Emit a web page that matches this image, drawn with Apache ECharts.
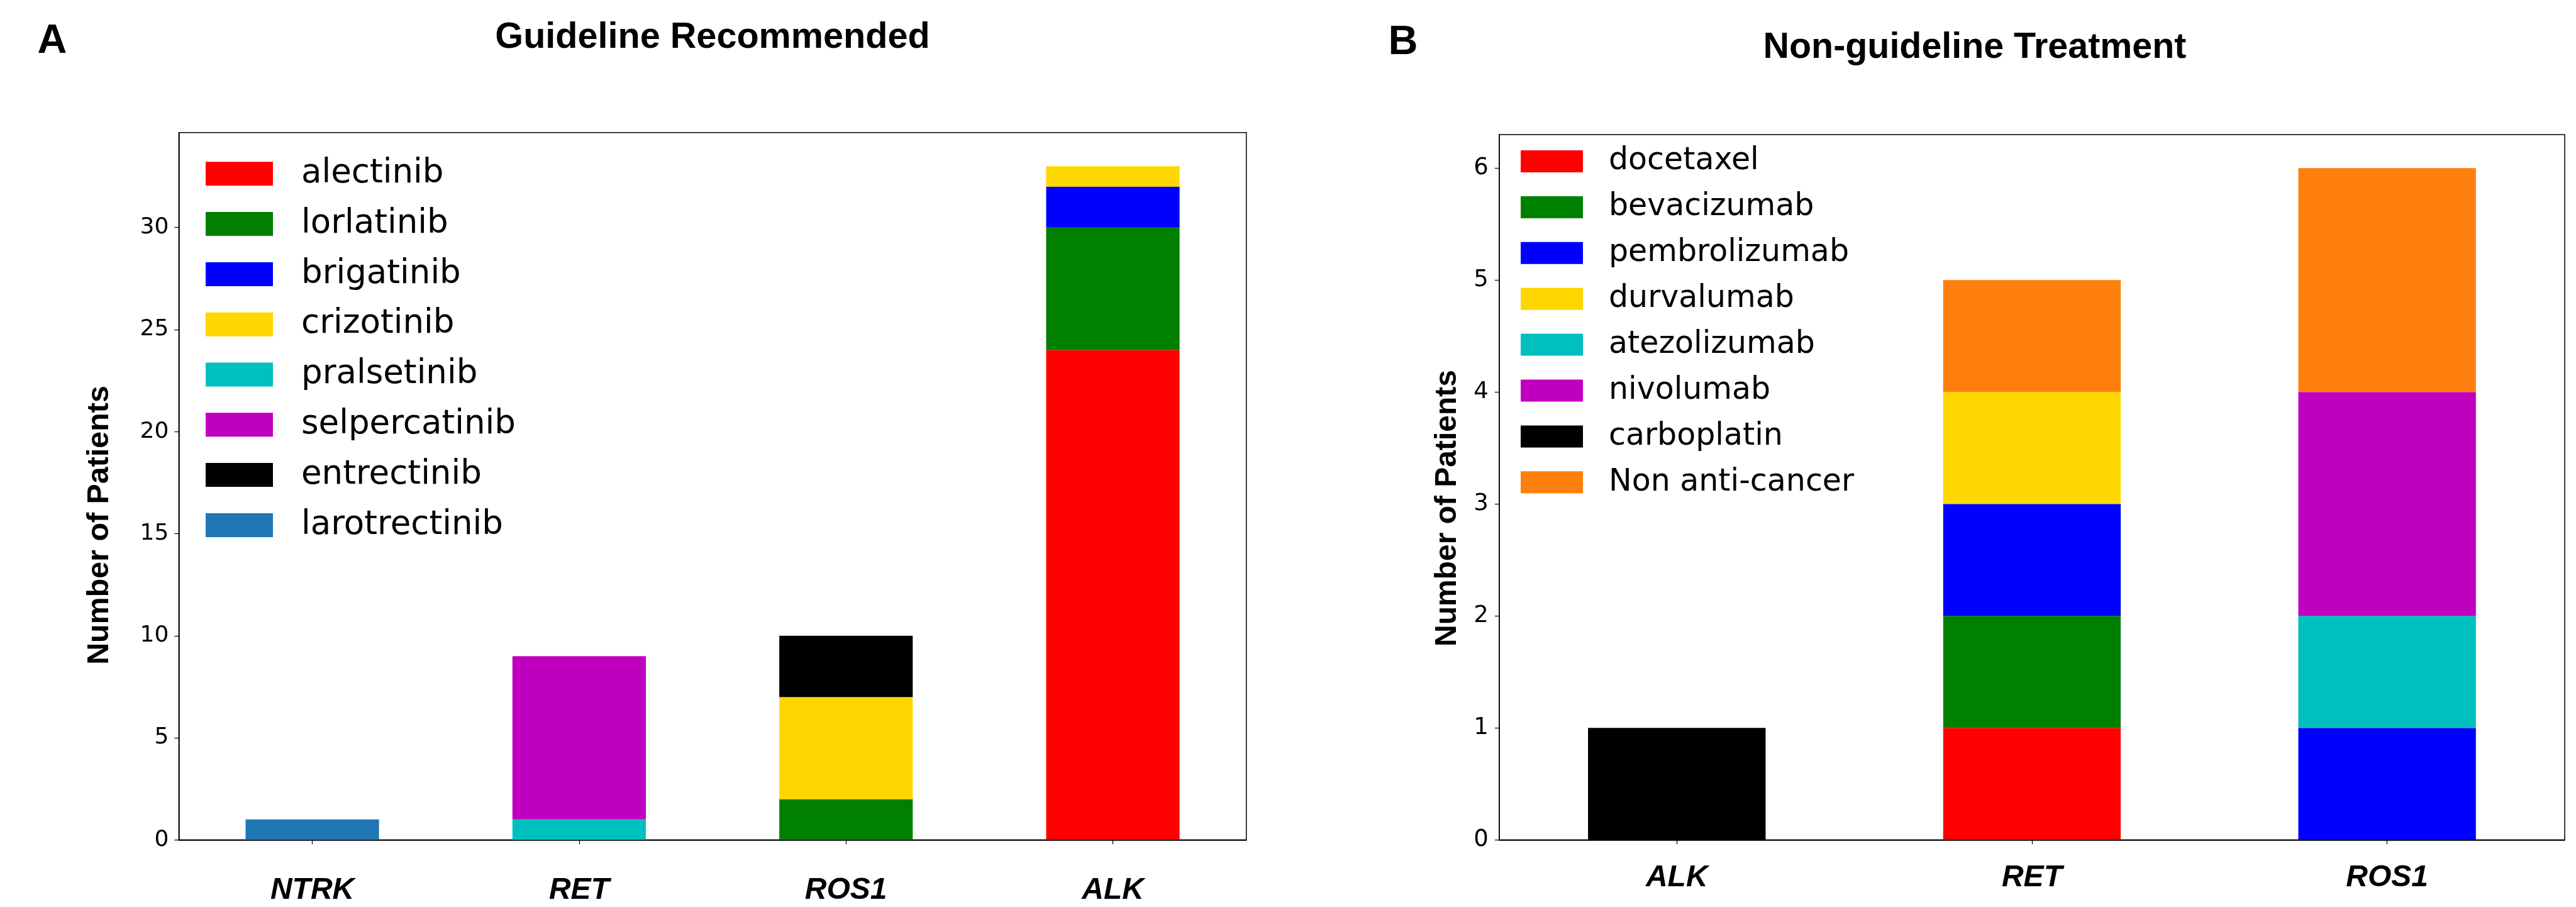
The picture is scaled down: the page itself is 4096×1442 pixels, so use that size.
<!DOCTYPE html>
<html>
<head>
<meta charset="utf-8">
<script src="https://cdn.jsdelivr.net/npm/echarts@6/dist/echarts.min.js"></script>
<style>
html,body{margin:0;padding:0;background:#fff;}
#c{width:4096px;height:1442px;}
</style>
</head>
<body>
<div id="c"></div>
<script>
// ---------- Data: panel A (Guideline Recommended) ----------
const catsA = ['NTRK', 'RET', 'ROS1', 'ALK'];
const namesA = ['alectinib', 'lorlatinib', 'brigatinib', 'crizotinib', 'pralsetinib', 'selpercatinib', 'entrectinib', 'larotrectinib'];
const alectinib     = [0, 0, 0, 24];
const lorlatinib    = [0, 0, 2, 6];
const brigatinib    = [0, 0, 0, 2];
const crizotinib    = [0, 0, 5, 1];
const pralsetinib   = [0, 1, 0, 0];
const selpercatinib = [0, 8, 0, 0];
const entrectinib   = [0, 0, 3, 0];
const larotrectinib = [1, 0, 0, 0];
const valuesA = [alectinib, lorlatinib, brigatinib, crizotinib, pralsetinib, selpercatinib, entrectinib, larotrectinib];
const ticksA = [0, 5, 10, 15, 20, 25, 30];

// ---------- Data: panel B (Non-guideline Treatment) ----------
const catsB = ['ALK', 'RET', 'ROS1'];
const namesB = ['docetaxel', 'bevacizumab', 'pembrolizumab', 'durvalumab', 'atezolizumab', 'nivolumab', 'carboplatin', 'Non anti-cancer'];
const docetaxel     = [0, 1, 0];
const bevacizumab   = [0, 1, 0];
const pembrolizumab = [0, 1, 1];
const durvalumab    = [0, 1, 0];
const atezolizumab  = [0, 0, 1];
const nivolumab     = [0, 0, 2];
const carboplatin   = [1, 0, 0];
const nonAntiCancer = [0, 1, 2];
const valuesB = [docetaxel, bevacizumab, pembrolizumab, durvalumab, atezolizumab, nivolumab, carboplatin, nonAntiCancer];
const ticksB = [0, 1, 2, 3, 4, 5, 6];

// ---------- Styles ----------
const colorsA = ['#ff0000', '#008000', '#0000ff', '#ffd700', '#00bfbf', '#bf00bf', '#000000', '#1f77b4'];
const colorsB = ['#ff0000', '#008000', '#0000ff', '#ffd700', '#00bfbf', '#bf00bf', '#000000', '#ff7f0e'];

const tickFont = 'DejaVu Sans';
const boldFont = 'Liberation Sans, Arial, sans-serif';

function stackMax(values) {
  let m = 0;
  for (let j = 0; j < values[0].length; j++) {
    let s = 0;
    values.forEach(function (arr) { s += arr[j]; });
    m = Math.max(m, s);
  }
  return m;
}

function yAxisCfg(gridIndex, ticks, values, fontSize, margin) {
  const maxV = stackMax(values) * 1.05;
  const step = ticks[1] - ticks[0];
  return {
    type: 'value', gridIndex: gridIndex, min: 0, max: maxV, interval: step,
    axisLine: {show: true, lineStyle: {color: '#000', width: 1.5}},
    axisTick: {show: true, length: 7, lineStyle: {color: '#000', width: 1.2}},
    splitLine: {show: false},
    axisLabel: {
      show: true, color: '#000', fontFamily: tickFont, fontSize: fontSize, margin: margin,
      showMaxLabel: false,
      formatter: function (v) { return ticks.indexOf(v) >= 0 ? String(v) : ''; }
    }
  };
}
function xAxisCfg(gridIndex, cats, fontSize, margin) {
  return {
    type: 'category', gridIndex: gridIndex, data: cats, boundaryGap: true,
    axisLine: {show: true, lineStyle: {color: '#000', width: 1.5}},
    axisTick: {show: true, alignWithLabel: true, length: 7, lineStyle: {color: '#000', width: 1.2}},
    axisLabel: {
      color: '#000', fontFamily: boldFont, fontWeight: 'bold', fontStyle: 'italic',
      fontSize: fontSize, margin: margin
    }
  };
}

const series = [];
namesA.forEach(function (n, i) {
  series.push({
    name: n, type: 'bar', stack: 'A', xAxisIndex: 0, yAxisIndex: 0,
    barWidth: '50%', data: valuesA[i], itemStyle: {color: colorsA[i]},
    emphasis: {disabled: true}
  });
});
namesB.forEach(function (n, i) {
  series.push({
    name: n, type: 'bar', stack: 'B', xAxisIndex: 1, yAxisIndex: 1,
    barWidth: '50%', data: valuesB[i], itemStyle: {color: colorsB[i]},
    emphasis: {disabled: true}
  });
});

// patchTop: top of first colour patch; item row height equals fontSize
function legendCfg(names, left, patchTop, iw, ih, spacing, fontSize, textPad) {
  return {
    data: names, orient: 'vertical', left: left, top: patchTop - (fontSize - ih) / 2,
    itemWidth: iw, itemHeight: ih, itemGap: spacing - fontSize,
    icon: 'rect', padding: 0, selectedMode: false,
    textStyle: {
      fontFamily: tickFont, fontSize: fontSize, color: '#000',
      padding: [0, 0, 0, textPad]
    }
  };
}

const option = {
  animation: false,
  backgroundColor: '#fff',
  grid: [
    {left: 284.4, top: 210.8, width: 1697.3, height: 1124.5, show: true, borderColor: '#000', borderWidth: 1.5, backgroundColor: 'transparent', containLabel: false},
    {left: 2383.9, top: 213.9, width: 1694.1, height: 1121.4, show: true, borderColor: '#000', borderWidth: 1.5, backgroundColor: 'transparent', containLabel: false}
  ],
  xAxis: [xAxisCfg(0, catsA, 48, 56), xAxisCfg(1, catsB, 48, 36)],
  yAxis: [yAxisCfg(0, ticksA, valuesA, 36, 16), yAxisCfg(1, ticksB, valuesB, 37, 17)],
  legend: [
    legendCfg(namesA, 327, 257.3, 107, 38, 79.8, 53, 40),
    legendCfg(namesB, 2418, 239, 99, 35, 72.9, 49, 36)
  ],
  graphic: [
    {type: 'text', x: 1133, y: 60.3, style: {text: 'Guideline Recommended', fontFamily: boldFont, fontWeight: 'bold', fontSize: 57.6, fill: '#000', textAlign: 'center', textVerticalAlign: 'middle'}},
    {type: 'text', x: 3140, y: 75.8, style: {text: 'Non-guideline Treatment', fontFamily: boldFont, fontWeight: 'bold', fontSize: 57.4, fill: '#000', textAlign: 'center', textVerticalAlign: 'middle'}},
    {type: 'text', x: 83, y: 66, style: {text: 'A', fontFamily: boldFont, fontWeight: 'bold', fontSize: 65, fill: '#000', textAlign: 'center', textVerticalAlign: 'middle'}},
    {type: 'text', x: 2231, y: 68, style: {text: 'B', fontFamily: boldFont, fontWeight: 'bold', fontSize: 65, fill: '#000', textAlign: 'center', textVerticalAlign: 'middle'}},
    {type: 'text', x: 159, y: 835, rotation: Math.PI / 2, style: {text: 'Number of Patients', fontFamily: boldFont, fontWeight: 'bold', fontSize: 48.4, fill: '#000', textAlign: 'center', textVerticalAlign: 'middle'}},
    {type: 'text', x: 2302, y: 808, rotation: Math.PI / 2, style: {text: 'Number of Patients', fontFamily: boldFont, fontWeight: 'bold', fontSize: 48, fill: '#000', textAlign: 'center', textVerticalAlign: 'middle'}}
  ],
  series: series
};

const chart = echarts.init(document.getElementById('c'), null, {renderer: 'canvas', width: 4096, height: 1442});
chart.setOption(option);
</script>
</body>
</html>
